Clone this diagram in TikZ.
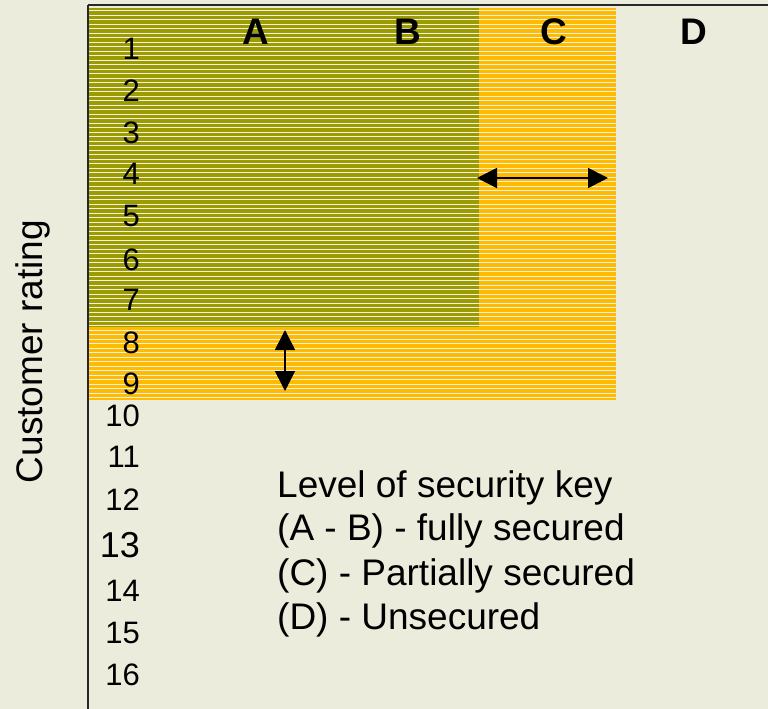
\documentclass[tikz,border=0pt]{standalone}
\usepackage{fontspec}
\setmainfont{Liberation Sans}
\usetikzlibrary{arrows.meta}
\definecolor{bg}{RGB}{236,236,220}
\definecolor{olivefill}{RGB}{156,156,0}
\definecolor{orangefill}{RGB}{255,187,0}
\definecolor{stripe}{RGB}{240,240,232}
\definecolor{frame}{RGB}{40,40,40}
\tikzset{
  num/.style={anchor=east, inner sep=0pt, font=\fontsize{31}{31}\selectfont},
  colhead/.style={inner sep=0pt, font=\fontsize{37}{37}\selectfont\bfseries},
  legend/.style={anchor=base west, inner sep=0pt, font=\fontsize{37}{37}\selectfont},
  dblarrow/.style={line width=1.6pt, {Triangle[length=20pt,width=20pt]}-{Triangle[length=20pt,width=20pt]}},
  framel/.style={line width=2pt, draw=frame}
}
\begin{document}
\begin{tikzpicture}[x=1pt,y=-1pt]
\fill[bg] (0,0) rectangle (768,709);
\useasboundingbox (0,0) rectangle (768,709);
% fills
\fill[olivefill] (89,8) rectangle (479,327);
\fill[orangefill] (479,8) rectangle (616,400);
\fill[orangefill] (89,327) rectangle (479,400);
% stripes
\foreach \k in {0,...,86} {
  \draw[stripe, line width=0.9pt] (89,{10.5+4.5*\k}) -- (616,{10.5+4.5*\k});
}
% frame
\draw[framel] (88,5.5) -- (768,5.5);
\draw[framel] (88,5) -- (88,709);
% column headers
\node[colhead] (cA) at (256,32) {A};
\node[colhead] (cB) at (408,32) {B};
\node[colhead] (cC) at (554,32) {C};
\node[colhead] (cD) at (694,32) {D};
% row numbers
\node[num] (n1) at (140,48.5) {1};
\node[num] (n2) at (140,91) {2};
\node[num] (n3) at (140,133) {3};
\node[num] (n4) at (140,174) {4};
\node[num] (n5) at (140,216) {5};
\node[num] (n6) at (140,260) {6};
\node[num] (n7) at (140,300) {7};
\node[num] (n8) at (140,343) {8};
\node[num] (n9) at (140,384) {9};
\node[num] (n10) at (140,416) {10};
\node[num] (n11) at (140,457) {11};
\node[num] (n12) at (140,500) {12};
\node[num, font=\fontsize{36}{36}\selectfont] (n13) at (140,545) {13};
\node[num] (n14) at (140,591) {14};
\node[num] (n15) at (140,633) {15};
\node[num] (n16) at (140,675) {16};
% axis label
\node[rotate=90, anchor=base, inner sep=0pt, font=\fontsize{37}{37}\selectfont] (ylab) at (42,351.5) {Customer rating};
% legend
\node[legend] (l1) at (277,497) {Level of security key};
\node[legend] (l2) at (277,540) {(A - B) - fully secured};
\node[legend] (l3) at (277,585) {(C) - Partially secured};
\node[legend] (l4) at (277,629) {(D) - Unsecured};
% arrows
\coordinate (h1) at (477,178);
\coordinate (h2) at (608,178);
\coordinate (v1) at (285,330);
\coordinate (v2) at (285,391);
\draw[dblarrow] (h1) -- (h2);
\draw[dblarrow] (v1) -- (v2);
\end{tikzpicture}
\end{document}
